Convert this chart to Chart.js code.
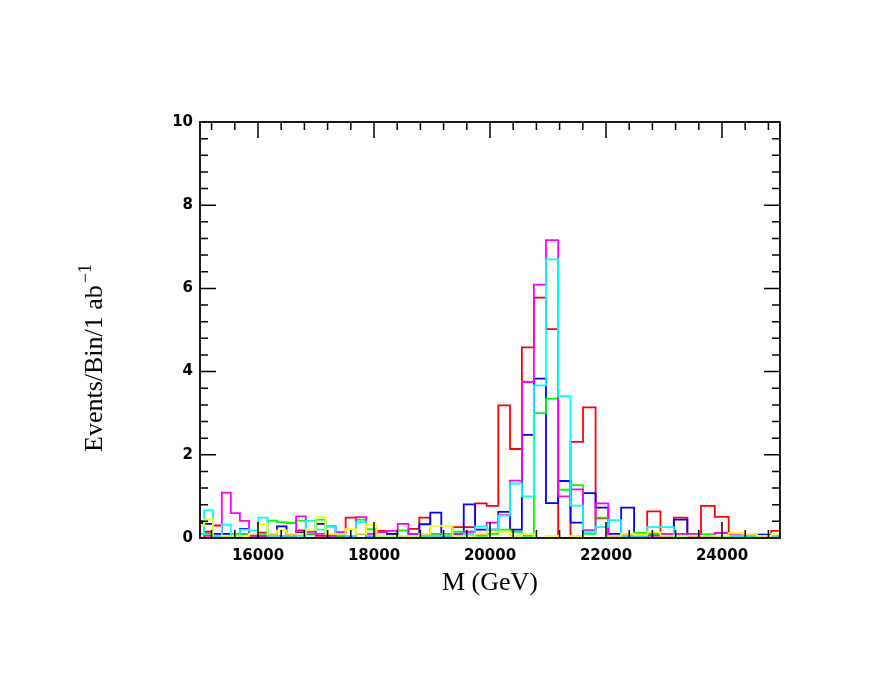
<!DOCTYPE html>
<html>
<head>
<meta charset="utf-8">
<script src="https://cdn.jsdelivr.net/npm/chart.js@4.4.1/dist/chart.umd.min.js"></script>
<style>
    html, body { margin: 0; padding: 0; background: #fff; }
    canvas { display: block; }
</style>
</head>
<body>
<canvas id="massChart" width="896" height="692"></canvas>
<script>
// bins are 0.01 wide in ln(M), 52 bins covering 15-25 TeV
const binEdges = Array.from({ length: 53 }, (_, k) => Math.exp(9.6106 + k / 100));

const redCounts = [0.10, 0.15, 0.30, 0.05, 0.00, 0.10, 0.05, 0.13, 0.10, 0.05,
    0.10, 0.18, 0.10, 0.05, 0.06, 0.10, 0.49, 0.10, 0.05, 0.17,
    0.10, 0.05, 0.22, 0.49, 0.10, 0.05, 0.26, 0.26, 0.83, 0.77,
    3.19, 2.14, 4.58, 5.78, 5.02, 0.00, 2.31, 3.14, 0.47, 0.05,
    0.10, 0.05, 0.64, 0.10, 0.49, 0.05, 0.77, 0.51, 0.05, 0.05,
    0.05, 0.17];
const blueCounts = [0.36, 0.34, 0.10, 0.10, 0.05, 0.22, 0.10, 0.05, 0.10, 0.28,
    0.05, 0.13, 0.10, 0.34, 0.28, 0.05, 0.05, 0.10, 0.05, 0.05,
    0.10, 0.05, 0.10, 0.33, 0.61, 0.05, 0.10, 0.81, 0.20, 0.20,
    0.63, 0.20, 2.48, 3.83, 0.84, 1.37, 0.37, 1.08, 0.73, 0.10,
    0.73, 0.08, 0.10, 0.05, 0.44, 0.05, 0.05, 0.05, 0.05, 0.05,
    0.08, 0.05];
const greenCounts = [0.41, 0.10, 0.05, 0.05, 0.10, 0.10, 0.05, 0.10, 0.42, 0.38,
    0.36, 0.42, 0.10, 0.44, 0.05, 0.05, 0.05, 0.44, 0.21, 0.05,
    0.05, 0.18, 0.05, 0.05, 0.10, 0.10, 0.15, 0.10, 0.05, 0.10,
    0.20, 0.15, 0.05, 3.00, 3.35, 1.16, 1.27, 0.10, 0.49, 0.05,
    0.05, 0.12, 0.10, 0.10, 0.10, 0.10, 0.09, 0.05, 0.05, 0.05,
    0.05, 0.05];
const magentaCounts = [0.00, 0.05, 0.05, 1.09, 0.60, 0.41, 0.05, 0.05, 0.05, 0.05,
    0.05, 0.52, 0.15, 0.10, 0.05, 0.14, 0.05, 0.50, 0.10, 0.14,
    0.17, 0.34, 0.10, 0.10, 0.05, 0.05, 0.10, 0.15, 0.10, 0.37,
    0.55, 1.38, 3.75, 6.09, 7.16, 1.00, 1.17, 0.19, 0.83, 0.05,
    0.05, 0.05, 0.05, 0.10, 0.10, 0.10, 0.05, 0.12, 0.10, 0.10,
    0.05, 0.05];
const cyanCounts = [0.10, 0.67, 0.05, 0.32, 0.05, 0.20, 0.18, 0.49, 0.05, 0.05,
    0.05, 0.05, 0.41, 0.20, 0.28, 0.10, 0.05, 0.38, 0.05, 0.05,
    0.05, 0.05, 0.05, 0.05, 0.05, 0.05, 0.05, 0.10, 0.28, 0.20,
    0.54, 1.31, 1.00, 3.67, 6.70, 3.41, 0.78, 0.15, 0.26, 0.43,
    0.05, 0.05, 0.26, 0.26, 0.05, 0.00, 0.00, 0.05, 0.05, 0.05,
    0.05, 0.05];
const yellowCounts = [0.30, 0.45, 0.00, 0.05, 0.05, 0.05, 0.10, 0.33, 0.10, 0.18,
    0.10, 0.10, 0.20, 0.50, 0.10, 0.10, 0.21, 0.10, 0.32, 0.05,
    0.05, 0.05, 0.05, 0.10, 0.29, 0.29, 0.05, 0.05, 0.10, 0.15,
    0.15, 0.05, 0.10, 0.00, 0.05, 0.00, 0.05, 0.00, 0.00, 0.05,
    0.10, 0.08, 0.14, 0.05, 0.05, 0.05, 0.05, 0.05, 0.12, 0.10,
    0.05, 0.10];

const xTickValues = [16000, 18000, 20000, 22000, 24000];
const yTickValues = [0, 2, 4, 6, 8, 10];

// step outline: one point at each lower edge, last value repeated at the top edge
const toSteps = (counts) => {
    const pts = counts.map((c, i) => ({ x: binEdges[i], y: c }));
    pts.push({ x: binEdges[counts.length], y: counts[counts.length - 1] });
    return pts;
};

const histo = (counts, color, order) => ({
    data: toSteps(counts),
    borderColor: color,
    borderWidth: 1.8,
    stepped: true,
    pointRadius: 0,
    fill: false,
    order: order,
});

// frame with inward ticks on all four sides
const frameTicks = {
    id: "frameTicks",
    afterDatasetsDraw(chart) {
        const { ctx, chartArea: a, scales: { x, y } } = chart;
        ctx.save();
        ctx.strokeStyle = "#000";
        ctx.lineWidth = 1.5;
        ctx.beginPath();
        for (let k = 38; k <= 62; k++) {
            const v = k * 400;
            const px = x.getPixelForValue(v);
            const len = v % 2000 === 0 ? 16 : 8;
            ctx.moveTo(px, a.bottom);
            ctx.lineTo(px, a.bottom - len);
            ctx.moveTo(px, a.top);
            ctx.lineTo(px, a.top + len);
        }
        for (let k = 1; k < 25; k++) {
            const py = y.getPixelForValue(k * 0.4);
            const len = k % 5 === 0 ? 16 : 8;
            ctx.moveTo(a.left, py);
            ctx.lineTo(a.left + len, py);
            ctx.moveTo(a.right, py);
            ctx.lineTo(a.right - len, py);
        }
        ctx.stroke();
        ctx.lineWidth = 1.8;
        ctx.strokeRect(a.left, a.top, a.right - a.left, a.bottom - a.top);
        ctx.restore();
    },
};

const yTitle = {
    id: "yTitle",
    afterDraw(chart) {
        const { ctx } = chart;
        const main = "Events/Bin/1 ab";
        ctx.save();
        ctx.translate(102, 452);
        ctx.rotate(-Math.PI / 2);
        ctx.fillStyle = "#000";
        ctx.textBaseline = "alphabetic";
        ctx.font = "26px 'Liberation Serif'";
        ctx.fillText(main, 0, 0);
        const w = ctx.measureText(main).width;
        ctx.font = "18px 'Liberation Serif'";
        ctx.fillText("\u22121", w + 2, -11);
        ctx.restore();
    },
};

const tickFont = { family: "'DejaVu Sans'", size: 15, weight: "bold" };

new Chart(document.getElementById("massChart"), {
    type: "line",
    data: {
        datasets: [
            histo(redCounts, "#ff0000", 6),
            histo(blueCounts, "#0000ff", 5),
            histo(greenCounts, "#00ff00", 4),
            histo(magentaCounts, "#ff00ff", 3),
            histo(cyanCounts, "#00ffff", 2),
            histo(yellowCounts, "#ffff00", 1),
        ],
    },
    options: {
        responsive: false,
        animation: false,
        layout: { padding: { top: 122, right: 116, bottom: 0, left: 0 } },
        plugins: {
            legend: { display: false },
            tooltip: { enabled: false },
        },
        scales: {
            x: {
                type: "linear",
                min: 15000,
                max: 25000,
                grid: { display: false, drawTicks: false },
                border: { display: false },
                afterBuildTicks: (scale) => {
                    scale.ticks = xTickValues.map((v) => ({ value: v }));
                },
                afterFit: (scale) => {
                    scale.height = 154;
                },
                ticks: {
                    color: "#000",
                    font: tickFont,
                    padding: 9,
                    maxRotation: 0,
                    autoSkip: false,
                    callback: (v) => String(v),
                },
                title: {
                    display: true,
                    text: "M (GeV)",
                    color: "#000",
                    font: { family: "'Liberation Serif'", size: 26 },
                    padding: { top: 0, bottom: 93 },
                },
            },
            y: {
                min: 0,
                max: 10,
                grid: { display: false, drawTicks: false },
                border: { display: false },
                afterBuildTicks: (scale) => {
                    scale.ticks = yTickValues.map((v) => ({ value: v }));
                },
                afterFit: (scale) => {
                    scale.width = 200;
                },
                ticks: {
                    color: "#000",
                    font: tickFont,
                    padding: 7,
                    callback: (v) => String(v),
                },
            },
        },
    },
    plugins: [frameTicks, yTitle],
});
</script>
</body>
</html>
